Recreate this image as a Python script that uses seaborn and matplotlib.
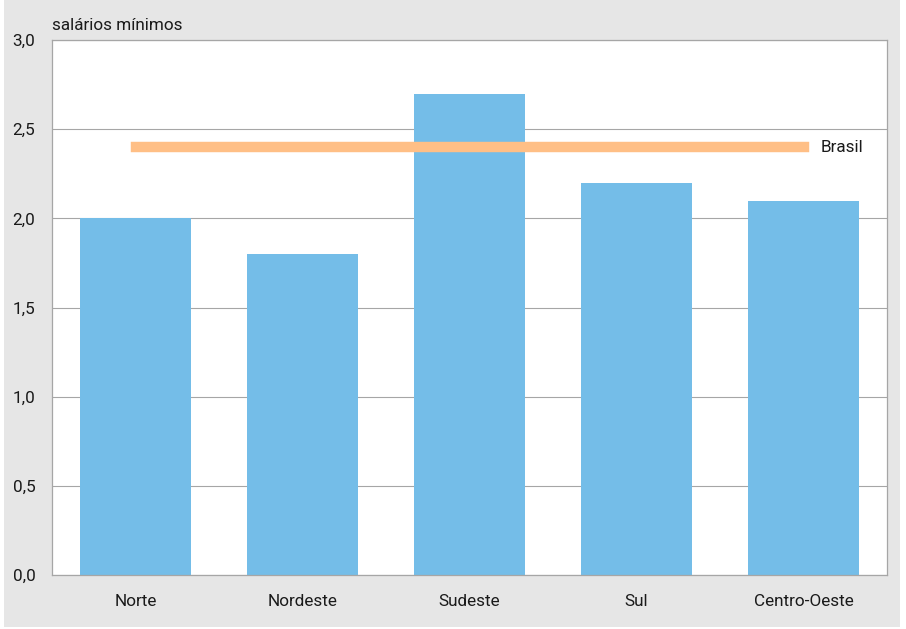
import matplotlib
matplotlib.use("Agg")
import matplotlib.pyplot as plt
import seaborn as sns
import pandas as pd
from matplotlib.patches import Rectangle

regioes = ["Norte", "Nordeste", "Sudeste", "Sul", "Centro-Oeste"]
salarios = [2.0, 1.8, 2.7, 2.2, 2.1]
brasil = 2.4
yticks = [0.0, 0.5, 1.0, 1.5, 2.0, 2.5, 3.0]
ytick_labels = ["0,0", "0,5", "1,0", "1,5", "2,0", "2,5", "3,0"]

df = pd.DataFrame({"Regiao": regioes, "Salarios": salarios})

sns.set_style("white")
plt.rcParams['font.family'] = ['Roboto', 'DejaVu Sans']

fig = plt.figure(figsize=(9.06, 6.29), dpi=100)
fig.patch.set_facecolor("white")
# gray frame behind the chart
fig.patches.append(Rectangle((4/906, 2/629), 896/906, 627/629, transform=fig.transFigure,
                             facecolor="#e6e6e6", edgecolor="none", zorder=-10))

ax = fig.add_axes([52/906, 1 - 575/629, 835/906, 535/629])
ax.set_facecolor("white")

sns.barplot(data=df, x="Regiao", y="Salarios", color="#74bde8", saturation=1,
            width=0.67, ax=ax, zorder=2, edgecolor="none", linewidth=0)

# linha do Brasil
ax.plot([regioes[0], regioes[-1]], [brasil, brasil], color="#ffbf86", lw=7.5,
        solid_capstyle="projecting", zorder=3)
ax.text(len(regioes) - 1 + 0.1, brasil, "Brasil", va="center", ha="left", fontsize=12.3,
        color="#1a1a1a", zorder=4)

ax.set_xlim(-0.5, len(regioes) - 0.5)
ax.set_ylim(0, 3.0)
ax.set_yticks(yticks)
ax.set_yticklabels(ytick_labels)
ax.yaxis.grid(True, color="#a6a6a6", lw=0.8, zorder=0)
ax.set_axisbelow(True)
ax.tick_params(axis="both", length=0, labelsize=12.3, colors="#1a1a1a")
ax.tick_params(axis="x", pad=14)
ax.tick_params(axis="y", pad=12)
ax.set_xlabel("")
ax.set_ylabel("")
for s in ax.spines.values():
    s.set_color("#a6a6a6")
    s.set_linewidth(0.9)

fig.text(52/906, 1 - 25/629, "salários mínimos", fontsize=12.3, color="#1a1a1a",
         ha="left", va="center")

fig.savefig("out.png", dpi=100)
